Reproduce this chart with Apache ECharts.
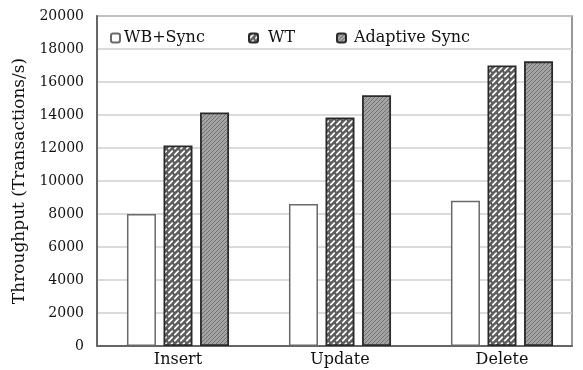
<!DOCTYPE html>
<html>
<head>
<meta charset="utf-8">
<script src="https://cdn.jsdelivr.net/npm/echarts@6/dist/echarts.min.js"></script>
<style>
html,body{margin:0;padding:0;background:#fff;}
#chart{width:583px;height:370px;}
</style>
</head>
<body>
<div id="chart"></div>
<script>
const categories = ['Insert', 'Update', 'Delete'];
const seriesNames = ['WB+Sync', 'WT', 'Adaptive Sync'];
const wbSync = [8000, 8600, 8800];
const wt = [12150, 13850, 17000];
const adaptiveSync = [14150, 15200, 17250];
const yMin = 0, yMax = 20000, yStep = 2000;
const yAxisTitle = 'Throughput (Transactions/s)';

function makeWTPattern() {
  const c = document.createElement('canvas');
  c.width = 6; c.height = 6;
  const ctx = c.getContext('2d');
  ctx.fillStyle = '#5e5e5e';
  ctx.fillRect(0, 0, 6, 6);
  ctx.strokeStyle = '#ffffff';
  ctx.lineWidth = 1.7;
  ctx.lineCap = 'round';
  ctx.beginPath();
  ctx.moveTo(0.8, 4.6); ctx.lineTo(4.2, 1.2);
  ctx.stroke();
  return c;
}
function makeAdaptivePattern() {
  const c = document.createElement('canvas');
  c.width = 4; c.height = 4;
  const ctx = c.getContext('2d');
  ctx.fillStyle = '#a4a4a4';
  ctx.fillRect(0, 0, 4, 4);
  ctx.strokeStyle = '#707070';
  ctx.lineWidth = 1;
  ctx.beginPath();
  ctx.moveTo(0, 4); ctx.lineTo(4, 0);
  ctx.moveTo(-1, 1); ctx.lineTo(1, -1);
  ctx.moveTo(3, 5); ctx.lineTo(5, 3);
  ctx.stroke();
  return c;
}

const font = 'DejaVu Serif';
const chart = echarts.init(document.getElementById('chart'), null, {renderer: 'canvas'});

function legendAt(left, name, padLeft) {
  return {
    orient: 'horizontal',
    top: 25,
    left: left,
    itemWidth: 9,
    itemHeight: 9,
    selectedMode: false,
    data: [name],
    textStyle: {fontFamily: font, fontSize: 16, color: '#111', padding: [0, 0, 0, padLeft]}
  };
}

chart.setOption({
  animation: false,
  backgroundColor: '#fff',
  legend: [
    legendAt(105, seriesNames[0], -1),
    legendAt(243, seriesNames[1], 5),
    legendAt(331, seriesNames[2], 3)
  ],
  grid: [
    {left: 97, right: 11, top: 16, bottom: 24, show: true, borderColor: '#777', borderWidth: 1.5, backgroundColor: 'transparent'},
    {left: 97, width: 492, top: 16, bottom: 24}
  ],
  xAxis: [
    {
      gridIndex: 0, type: 'value', min: 0, max: 1,
      axisLine: {show: true, onZero: false, lineStyle: {color: '#666', width: 2}},
      axisTick: {show: false}, axisLabel: {show: false}, splitLine: {show: false}
    },
    {
      gridIndex: 1, type: 'category', data: categories,
      axisLine: {show: false}, axisTick: {show: false},
      axisLabel: {fontFamily: font, fontSize: 16, color: '#111', margin: 6},
      splitLine: {show: false}
    }
  ],
  yAxis: [
    {
      gridIndex: 0, type: 'value', min: yMin, max: yMax, interval: yStep,
      name: yAxisTitle, nameLocation: 'middle', nameGap: 64, nameRotate: 90,
      nameTextStyle: {fontFamily: font, fontSize: 17, color: '#111'},
      axisLine: {show: true, lineStyle: {color: '#666', width: 2}},
      axisTick: {show: false},
      axisLabel: {fontFamily: font, fontSize: 14, color: '#111', margin: 13, formatter: function (v) { return String(v); }},
      splitLine: {show: true, lineStyle: {color: '#cfcfcf', width: 1.5}}
    },
    {
      gridIndex: 1, type: 'value', min: yMin, max: yMax, interval: yStep,
      show: false, splitLine: {show: false}
    }
  ],
  series: [
    {
      name: seriesNames[0], type: 'bar', xAxisIndex: 1, yAxisIndex: 1,
      data: wbSync, barWidth: 29, barGap: '26%',
      itemStyle: {color: '#ffffff', borderColor: '#6a6a6a', borderWidth: 1.5}
    },
    {
      name: seriesNames[1], type: 'bar', xAxisIndex: 1, yAxisIndex: 1,
      data: wt, barWidth: 29, barGap: '26%',
      itemStyle: {color: {image: makeWTPattern(), repeat: 'repeat'}, borderColor: '#2a2a2a', borderWidth: 1.8}
    },
    {
      name: seriesNames[2], type: 'bar', xAxisIndex: 1, yAxisIndex: 1,
      data: adaptiveSync, barWidth: 29, barGap: '26%',
      itemStyle: {color: {image: makeAdaptivePattern(), repeat: 'repeat'}, borderColor: '#2a2a2a', borderWidth: 1.8}
    }
  ]
});
</script>
</body>
</html>
